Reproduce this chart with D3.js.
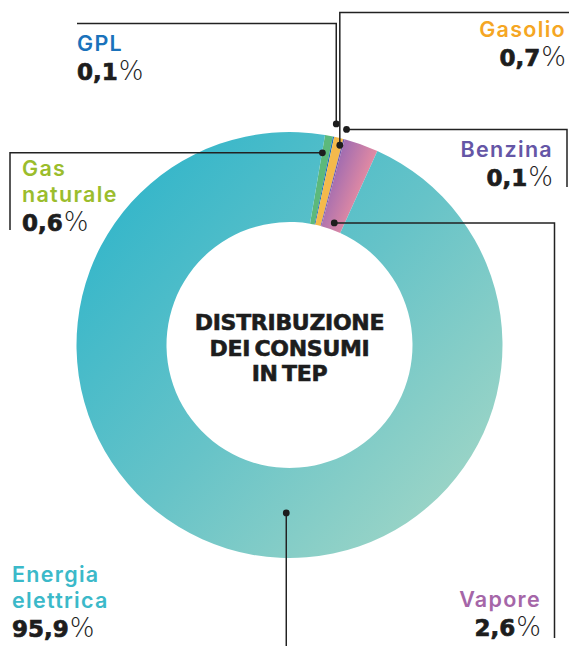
<!DOCTYPE html>
<html>
<head>
<meta charset="utf-8">
<script src="https://cdn.jsdelivr.net/npm/d3@7/dist/d3.min.js"></script>
<style>
  html, body { margin: 0; padding: 0; background: #fff; }
  svg { display: block; font-family: Inter, "Open Sans", sans-serif; }
</style>
</head>
<body>
<svg id="chart" width="571" height="646"></svg>
<script>
// Fuel shares of energy consumption (TEP), clockwise from the small slices
const categories = ["Gas naturale", "GPL", "Gasolio", "Benzina", "Vapore", "Energia elettrica"];
const shares = [0.6, 0.1, 0.7, 0.1, 2.6, 95.9];
const valueLabels = ["0,6", "0,1", "0,7", "0,1", "2,6", "95,9"];
const nameLines = [["Gas", "naturale"], ["GPL"], ["Gasolio"], ["Benzina"], ["Vapore"], ["Energia", "elettrica"]];

const sliceFills = ["#5cb97b", "#1a6fb8", "#f4b94b", "#6a5aab", "url(#gradVapore)", "url(#gradEnergia)"];
const labelColors = ["#9bbd2c", "#1a72bb", "#f5a623", "#6556a6", "#a566a8", "#3bb9c9"];

const svg = d3.select("#chart");
const cx = 289.5, cy = 345, rOuter = 213, rInner = 123;

// gradients (coordinates relative to the ring centre)
const defs = svg.append("defs");
const gE = defs.append("linearGradient").attr("id", "gradEnergia")
  .attr("gradientUnits", "userSpaceOnUse")
  .attr("x1", 90 - cx).attr("y1", 170 - cy).attr("x2", 490 - cx).attr("y2", 530 - cy);
gE.append("stop").attr("offset", 0).attr("stop-color", "#2db4ca");
gE.append("stop").attr("offset", 0.5).attr("stop-color", "#66c3c8");
gE.append("stop").attr("offset", 1).attr("stop-color", "#a6d8c6");
const gV = defs.append("linearGradient").attr("id", "gradVapore")
  .attr("gradientUnits", "userSpaceOnUse")
  .attr("x1", 326 - cx).attr("y1", 180 - cy).attr("x2", 368 - cx).attr("y2", 196 - cy);
gV.append("stop").attr("offset", 0).attr("stop-color", "#9a69b2");
gV.append("stop").attr("offset", 1).attr("stop-color", "#f091a0");

const startDeg = 9.6;
const pie = d3.pie().sort(null).value(d => d)
  .startAngle(startDeg * Math.PI / 180)
  .endAngle(startDeg * Math.PI / 180 + 2 * Math.PI);
const arcs = pie(shares);
const arc = d3.arc().innerRadius(rInner).outerRadius(rOuter);

const g = svg.append("g").attr("transform", `translate(${cx},${cy})`);
g.selectAll("path.slice").data(arcs).join("path")
  .attr("class", "slice")
  .attr("d", arc)
  .attr("fill", (d, i) => sliceFills[i]);

// leader anchors: position within each slice (fraction of its angle) and radius
const anchors = [
  { frac: 0.05, r: 195 },
  { frac: 0.5, r: 226 },
  { frac: 0.8, r: 206 },
  { frac: 0.5, r: 223 },
  { frac: 0.55, r: 130 },
  { frac: 0.454, r: 168 }
];
// leader routes after the dot, as axis-aligned steps in page coords
const routes = [
  [["x", 10], ["y", 230]],
  [["y", 23.5], ["x", 77]],
  [["y", 12.5], ["x", 569]],
  [["x", 567], ["y", 187]],
  [["x", 554.5], ["y", 638]],
  [["y", 646]]
];

const anchorPts = arcs.map((a, i) => {
  const ang = a.startAngle + (a.endAngle - a.startAngle) * anchors[i].frac;
  return [cx + anchors[i].r * Math.sin(ang), cy - anchors[i].r * Math.cos(ang)];
});

const leaders = svg.append("g");
anchorPts.forEach((p, i) => {
  let x = p[0], y = p[1];
  const pts = [[x, y]];
  routes[i].forEach(([axis, v]) => {
    if (axis === "x") x = v; else y = v;
    pts.push([x, y]);
  });
  leaders.append("path")
    .attr("d", d3.line()(pts))
    .attr("fill", "none").attr("stroke", "#222").attr("stroke-width", 1.5);
  leaders.append("circle").attr("cx", p[0]).attr("cy", p[1]).attr("r", 3.4).attr("fill", "#1d1d1d");
});

// label blocks
const labelPos = [
  { x: 22, y: 176, anchor: "start" },
  { x: 77, y: 51, anchor: "start" },
  { x: 566, y: 37, anchor: "end" },
  { x: 553, y: 157, anchor: "end" },
  { x: 541, y: 607, anchor: "end" },
  { x: 12, y: 582, anchor: "start" }
];
const nameLead = 25.5, valueLead = 29;

categories.forEach((c, i) => {
  const lp = labelPos[i];
  const t = svg.append("g");
  nameLines[i].forEach((ln, k) => {
    t.append("text")
      .attr("x", lp.x).attr("y", lp.y + k * nameLead)
      .attr("text-anchor", lp.anchor)
      .attr("font-size", 21.5).attr("font-weight", 600)
      .attr("letter-spacing", 1.3)
      .attr("fill", labelColors[i])
      .text(ln);
  });
  const vy = lp.y + (nameLines[i].length - 1) * nameLead + valueLead;
  const vt = t.append("text")
    .attr("x", lp.x).attr("y", vy)
    .attr("text-anchor", lp.anchor)
    .attr("fill", "#1d1d1d")
    .style("font-family", "'DejaVu Sans', sans-serif");
  vt.append("tspan").attr("font-size", 23).attr("font-weight", 700)
    .attr("stroke", "#1d1d1d").attr("stroke-width", 0.7)
    .text(valueLabels[i]);
  vt.append("tspan").attr("font-size", 26).attr("font-weight", 200).attr("dx", 1).text("%");
});

// centre title
const titleLines = ["DISTRIBUZIONE", "DEI CONSUMI", "IN TEP"];
svg.append("g").selectAll("text").data(titleLines).join("text")
  .attr("x", cx).attr("y", (d, i) => 330 + i * 25.5)
  .attr("text-anchor", "middle")
  .style("font-family", "'DejaVu Sans', sans-serif")
  .attr("font-size", 22).attr("font-weight", 700)
  .attr("letter-spacing", -0.3)
  .attr("word-spacing", -3)
  .attr("fill", "#1d1d1d")
  .attr("stroke", "#1d1d1d").attr("stroke-width", 0.6)
  .text(d => d);
</script>
</body>
</html>
